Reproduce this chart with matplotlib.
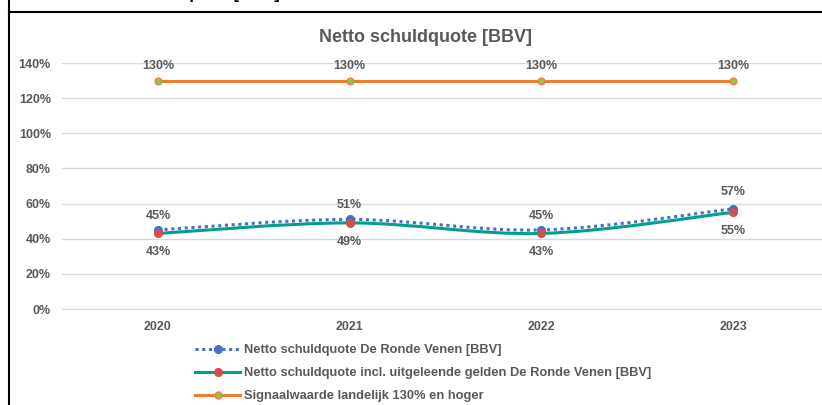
import matplotlib.pyplot as plt
from matplotlib.path import Path
from matplotlib.patches import PathPatch
from matplotlib.lines import Line2D
import numpy as np

plt.rcParams['font.family'] = ['Liberation Sans', 'DejaVu Sans']

years = ['2020', '2021', '2022', '2023']
netto = [0.45, 0.51, 0.45, 0.57]
netto_incl = [0.43, 0.49, 0.43, 0.55]
signaal = [1.30, 1.30, 1.30, 1.30]

labels = ['Netto schuldquote De Ronde Venen [BBV]',
          'Netto schuldquote incl. uitgeleende gelden De Ronde Venen [BBV]',
          'Signaalwaarde landelijk 130% en hoger']

GREY = '#595959'
BLUE = '#4472C4'
TEAL = '#00A08C'
RED = '#D0504D'
ORANGE = '#ED7D31'
GREEN = '#9BBB59'


def smooth_path(x, y, tension=1 / 6):
    # Excel-style smoothed line as cubic bezier segments through the points
    x = np.asarray(x, float)
    y = np.asarray(y, float)
    verts = [(x[0], y[0])]
    codes = [Path.MOVETO]
    n = len(x)
    for i in range(n - 1):
        x0, y0 = (x[i - 1], y[i - 1]) if i > 0 else (x[i], y[i])
        x3, y3 = (x[i + 2], y[i + 2]) if i + 2 < n else (x[i + 1], y[i + 1])
        c1 = (x[i] + (x[i + 1] - x0) * tension, y[i] + (y[i + 1] - y0) * tension)
        c2 = (x[i + 1] - (x3 - x[i]) * tension, y[i + 1] - (y3 - y[i]) * tension)
        verts += [c1, c2, (x[i + 1], y[i + 1])]
        codes += [Path.CURVE4] * 3
    return Path(verts, codes)


fig = plt.figure(figsize=(8.22, 4.05), dpi=100)
ax = fig.add_axes([62 / 822, 1 - 309 / 405, (829 - 62) / 822, (309 - 63) / 405])

xs = np.arange(len(years))

ax.add_patch(PathPatch(smooth_path(xs, netto), fill=False, edgecolor=BLUE,
                       lw=2.2, linestyle=(0, (1, 1.2)), zorder=3))
ax.plot(xs, netto, 'o', color=BLUE, ms=5.5, zorder=4)
ax.add_patch(PathPatch(smooth_path(xs, netto_incl), fill=False, edgecolor=TEAL,
                       lw=2.2, zorder=3))
ax.plot(xs, netto_incl, 'o', color=RED, ms=5.5, zorder=5)
ax.plot(xs, signaal, '-', color=ORANGE, lw=2.2, zorder=3)
ax.plot(xs, signaal, 'o', color=GREEN, mec=ORANGE, mew=0.8, ms=5, zorder=4)

lab_kw = dict(ha='center', va='center', fontsize=9, fontweight='bold', color=GREY,
              textcoords='offset pixels')
for i in xs:
    up = 17 if i == len(years) - 1 else 14
    ax.annotate(f'{netto[i]:.0%}', (i, netto[i]), xytext=(0, up), **lab_kw)
    ax.annotate(f'{netto_incl[i]:.0%}', (i, netto_incl[i]), xytext=(0, -19), **lab_kw)
    ax.annotate(f'{signaal[i]:.0%}', (i, signaal[i]), xytext=(0, 15), **lab_kw)

ax.set_xlim(-0.5, len(years) - 0.5)
ax.set_ylim(0, 1.4)
ax.set_yticks(np.arange(0, 1.41, 0.2))
ax.set_yticklabels([f'{v:.0f}%' for v in np.arange(0, 141, 20)])
ax.set_xticks(xs)
ax.set_xticklabels(years)
ax.tick_params(length=0, labelsize=9, labelcolor=GREY, pad=9)
ax.tick_params(axis='y', pad=8)
for t in ax.get_xticklabels() + ax.get_yticklabels():
    t.set_fontweight('bold')
ax.grid(axis='y', color='#D9D9D9', lw=1)
ax.set_axisbelow(True)
for s in ['top', 'right', 'left']:
    ax.spines[s].set_visible(False)
ax.spines['bottom'].set_color('#D9D9D9')

fig.text(425 / 822, 1 - 38 / 405, 'Netto schuldquote [BBV]', ha='center', va='center',
         fontsize=13, fontweight='bold', color=GREY)

handles = [
    Line2D([], [], color=BLUE, lw=2.2, linestyle=(0, (1, 1.2)), marker='o', ms=5.5),
    Line2D([], [], color=TEAL, lw=2.2, marker='o', ms=5.5, mfc=RED, mec=RED),
    Line2D([], [], color=ORANGE, lw=2.2, marker='o', ms=5, mfc=GREEN, mec=ORANGE),
]
leg = fig.legend(handles, labels, loc='upper left', bbox_to_anchor=(195 / 822, 1 - 344 / 405),
                 frameon=False, fontsize=9.3, handlelength=3.5, labelspacing=0.85,
                 handletextpad=0.3, borderaxespad=0, borderpad=0)
for t in leg.get_texts():
    t.set_color(GREY)
    t.set_fontweight('bold')

# document frame around the chart, with the cut-off caption above it
fig.add_artist(Line2D([9 / 822, 1], [1 - 12 / 405] * 2, color='black', lw=1.5))
fig.add_artist(Line2D([9 / 822] * 2, [0, 1], color='black', lw=1.5))
fig.text(16 / 822, 1 + 1 / 405, 'Grafiek: Netto schuldquote [BBV]', ha='left', va='baseline',
         fontsize=12, fontweight='bold', color='black')

fig.savefig('out.png', dpi=100)
